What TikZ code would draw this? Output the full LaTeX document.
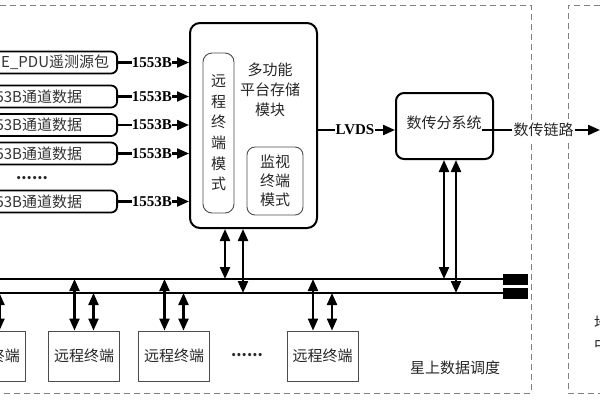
\documentclass[tikz,border=0pt]{standalone}
\usepackage{fontspec}
\setmainfont{Liberation Serif}
\newfontfamily\cjk{Noto Sans CJK SC}
\usetikzlibrary{arrows.meta}

\begin{document}
\begin{tikzpicture}
  [x=1pt,y=-1pt,>={Triangle[length=12pt,width=10pt]},
   every node/.style={inner sep=0pt, font=\cjk\fontsize{15}{18}\selectfont, text=black!85},
   wire/.style={line width=2.2pt},
   inbox/.style={draw=black, text=black!80, line width=1.8pt, rounded corners=6pt, anchor=east, minimum height=22pt, text width=180pt, align=right, inner xsep=#1},
   buslbl/.style={font=\bfseries\fontsize{15}{18}\selectfont, text=black},
   rtbox/.style={draw=black!70, line width=0.9pt, minimum width=71pt, minimum height=50pt},
   frame/.style={draw=black!50, line width=1pt, dash pattern=on 6pt off 4pt}]
  \useasboundingbox (0,0) rectangle (600,400);
  \clip (0,0) rectangle (600,400);

  % dashed frames
  \draw[frame] (-10,5) -- (531,5) -- (531,393) -- (-10,393);
  \draw[frame] (620,5) -- (568,5) -- (568,393) -- (620,393);

  % input sources
  \node[inbox=8pt] (in1) at (118,62.5) {E\_PDU遥测源包};
  \node[inbox=35pt] (in2) at (118,96.5) {1553B通道数据};
  \node[inbox=35pt] (in3) at (118,125) {1553B通道数据};
  \node[inbox=35pt] (in4) at (118,153.5) {1553B通道数据};
  \node[inbox=35pt] (in5) at (118,201.5) {1553B通道数据};
  \node (indots) at (32,178) {\textbf{......}};

  % storage module
  \node[draw=black, line width=2pt, rounded corners=10pt, minimum width=127pt, minimum height=205pt] (mem) at (253.5,125.5) {};
  \node[align=center, font=\cjk\fontsize{15}{20}\selectfont] (memtxt) at (270,90) {多功能\\平台存储\\模块};
  \node[draw=black!70, line width=0.9pt, rounded corners=9pt, minimum width=31pt, minimum height=160pt, align=center, font=\cjk\fontsize{15}{20.6}\selectfont] (rtm) at (218.5,133) {远\\程\\终\\端\\模\\式};
  \node[draw=black!70, line width=0.9pt, rounded corners=8pt, minimum width=56pt, minimum height=68pt, align=center, font=\cjk\fontsize{15}{19}\selectfont] (mon) at (275,181) {监视\\终端\\模式};

  \foreach \i in {1,...,5} {
    \node[buslbl] (l\i) at (152,0 |- in\i) {1553B};
    \draw[wire] (in\i.east) -- (l\i.west);
    \draw[wire,->] (l\i.east) -- (mem.west |- l\i);
  }

  % data transmission
  \node[draw=black, line width=2pt, rounded corners=8pt, minimum width=97pt, minimum height=66pt] (dts) at (444.5,126) {};
  \node (dtstxt) at (444,123) {数传分系统};
  \node[buslbl] (lvds) at (355,130) {LVDS};
  \draw[wire] (mem.east |- lvds) -- (lvds.west);
  \draw[wire,->] (lvds.east) -- (dts.west |- lvds);
  \node[fill=white, inner xsep=1pt, inner ysep=3pt] (link) at (543.5,130) {数传链路};
  \coordinate (linkend) at (600,130);
  \draw[wire] (dtstxt.east |- link) -- (link.west);
  \draw[wire,->] (link.east) -- (linkend);

  % buses
  \node[fill=black, minimum width=25pt, minimum height=11pt] (t1) at (515.5,279) {};
  \node[fill=black, minimum width=25pt, minimum height=11pt] (t2) at (515.5,293) {};
  \coordinate (b1w) at (-5,279);
  \coordinate (b2w) at (-5,293);
  \draw[wire] (b1w) -- (t1.west);
  \draw[wire] (b2w) -- (t2.west);

  \path (mem.south) ++(-28.5,0) coordinate (ml) ++(18,0) coordinate (mr);
  \path (dts.south) ++(-0.5,0) coordinate (dl) ++(12,0) coordinate (dr);
  \foreach \from/\to in {ml/b1w, mr/b2w, dl/b1w, dr/b2w}
    \draw[wire,<->] (\from) -- (\from |- \to);

  % remote terminals
  \foreach \n/\x in {a/-10, b/84, c/174, d/322.5} {
    \node[rtbox] (rt\n) at (\x,356) {远程终端};
    \path (rt\n.north) ++(-9.5,0) coordinate (rt\n l) ++(19,0) coordinate (rt\n r);
    \draw[wire,<->] (rt\n l |- b1w) -- (rt\n l);
    \draw[wire,<->] (rt\n r |- b2w) -- (rt\n r);
  }
  \node (rtdots) at (247,355) {\textbf{......}};

  \node (sched) at (455,368) {星上数据调度};
  \node[anchor=west, align=left, font=\cjk\fontsize{15}{22}\selectfont] (ground) at (594,334) {地面\\中心};
\end{tikzpicture}
\end{document}
